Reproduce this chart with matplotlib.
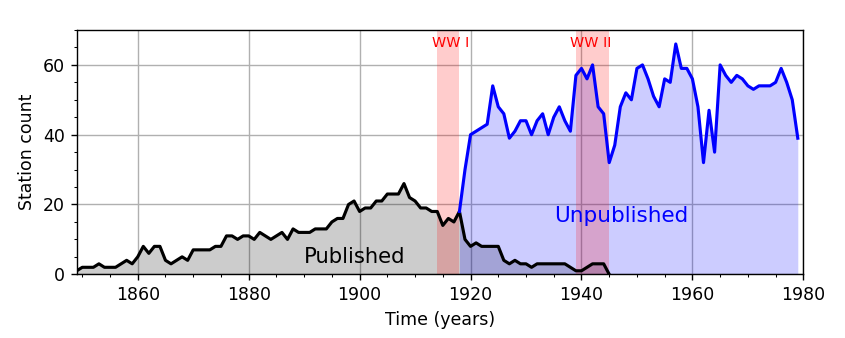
import numpy as np
import matplotlib
matplotlib.use("Agg")
import matplotlib.pyplot as plt
from matplotlib.ticker import MultipleLocator

# published station counts per year, 1849-1945
pub_years = np.arange(1849, 1946)
pub_counts = [1, 2, 2, 2, 3, 2, 2, 2, 3, 4, 3,            # 1849-1859
              5, 8, 6, 8, 8, 4, 3, 4, 5, 4,               # 1860-1869
              7, 7, 7, 7, 8, 8, 11, 11, 10, 11,           # 1870-1879
              11, 10, 12, 11, 10, 11, 12, 10, 13, 12,     # 1880-1889
              12, 12, 13, 13, 13, 15, 16, 16, 20, 21,     # 1890-1899
              18, 19, 19, 21, 21, 23, 23, 23, 26, 22,     # 1900-1909
              21, 19, 19, 18, 18, 14, 16, 15, 18, 10,     # 1910-1919
              8, 9, 8, 8, 8, 8, 4, 3, 4, 3,               # 1920-1929
              3, 2, 3, 3, 3, 3, 3, 3, 2, 1,               # 1930-1939
              1, 2, 3, 3, 3, 0]                           # 1940-1945

# unpublished station counts per year, 1918-1979
unpub_years = np.arange(1918, 1980)
unpub_counts = [18, 30,                                   # 1918-1919
                40, 41, 42, 43, 54, 48, 46, 39, 41, 44,   # 1920-1929
                44, 40, 44, 46, 40, 45, 48, 44, 41, 57,   # 1930-1939
                59, 56, 60, 48, 46, 32, 37, 48, 52, 50,   # 1940-1949
                59, 60, 56, 51, 48, 56, 55, 66, 59, 59,   # 1950-1959
                56, 48, 32, 47, 35, 60, 57, 55, 57, 56,   # 1960-1969
                54, 53, 54, 54, 54, 55, 59, 55, 50, 39]   # 1970-1979

wars = [(1914, 1918, 'WW I'), (1939, 1945, 'WW II')]

fig = plt.figure(figsize=(6.76, 2.704), dpi=125)
ax = fig.add_axes([0.0908, 0.1885, 0.8599, 0.7227])

ax.fill_between(pub_years, pub_counts, color='k', alpha=0.2, lw=0)
ax.plot(pub_years, pub_counts, color='k', lw=1.8)
ax.fill_between(unpub_years, unpub_counts, color='b', alpha=0.2, lw=0)
ax.plot(unpub_years, unpub_counts, color='b', lw=1.8)

for start, end, name in wars:
    ax.axvspan(start, end, color='r', alpha=0.2, lw=0)
    ax.text(start - 1, 65, name, color='r', fontsize=8.3)

ax.text(1890, 3.3, 'Published', fontsize=12.2)
ax.text(1935, 15, 'Unpublished', fontsize=12.4, color='b')

ax.set_xlim(1849, 1980)
ax.set_ylim(0, 70)
ax.xaxis.set_major_locator(MultipleLocator(20))
ax.xaxis.set_minor_locator(MultipleLocator(5))
ax.yaxis.set_major_locator(MultipleLocator(20))
ax.yaxis.set_minor_locator(MultipleLocator(5))
ax.grid(True)
ax.set_axisbelow(True)
ax.set_xlabel('Time (years)')
ax.set_ylabel('Station count')

fig.savefig('out.png', dpi=125)
